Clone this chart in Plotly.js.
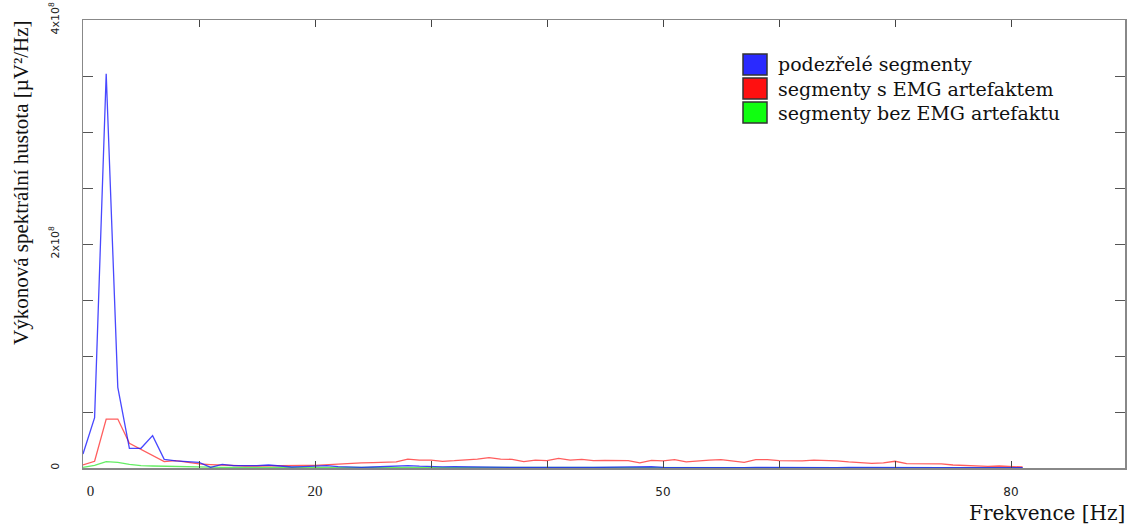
<!DOCTYPE html>
<html>
<head>
<meta charset="utf-8">
<script src="https://cdn.plot.ly/plotly-3.0.1.min.js"></script>
<style>
  html, body { margin: 0; padding: 0; background: #fff; }
  #chart { width: 1128px; height: 524px; }
</style>
</head>
<body>
<div id="chart"></div>
<script>
// Frequency bins [Hz]
const freq = [0,1,2,3,4,5,6,7,8,9,10,11,12,13,14,15,16,17,18,19,20,21,22,23,24,25,26,27,28,29,30,31,32,33,34,35,36,37,38,39,40,41,42,43,44,45,46,47,48,49,50,51,52,53,54,55,56,57,58,59,60,61,62,63,64,65,66,67,68,69,70,71,72,73,74,75,76,77,78,79,80,81];

// Power spectral density, in units of 10^6 µV²/Hz
const suspicious = [12.5,45,352,72,17.6,17.6,28.9,7.7,6.3,5.4,5.1,0.6,3.3,2.1,1.8,2.1,2.7,1.5,0.9,1.2,1.8,2.1,1.2,0.6,0.6,0.9,1.5,2.0,2.2,1.6,1.2,1.0,1.1,0.9,0.8,0.9,0.7,0.6,0.6,0.7,0.6,0.5,0.6,0.5,0.5,0.6,0.7,0.9,1.3,1.1,0.6,0.5,0.4,0.5,0.8,0.6,0.5,0.4,0.5,0.4,0.4,0.5,0.4,0.3,0.4,0.4,0.5,0.4,0.3,0.3,0.4,0.3,0.3,0.4,0.3,0.3,0.3,0.3,0.3,0.3,0.3,0.3];

const withEMG = [2.7,6.0,43.7,43.7,22,16.7,10.7,5.7,6.5,5.1,3.6,3.0,2.4,2.4,1.8,1.8,2.1,2.1,2.4,2.4,2.4,3.0,3.6,4.5,4.5,4.8,4.8,5.4,8.0,7.1,7.1,6.0,6.5,7.1,8.0,9.2,8.0,7.7,5.7,7.1,6.5,8.6,7.1,7.7,6.5,6.8,6.8,6.5,4.5,6.8,6.3,7.4,5.4,6.5,7.1,7.4,6.3,5.1,7.4,7.4,6.5,6.5,6.3,7.1,6.8,6.3,5.4,4.5,4.2,4.5,6.0,3.9,3.9,3.9,3.6,2.7,2.1,2.1,1.5,1.8,1.5,0.9];

const withoutEMG = [0.6,2.4,5.7,5.1,3.3,2.1,1.8,1.5,1.2,1.2,0.9,0.8,0.6,0.6,0.6,0.5,0.5,0.5,0.5,0.5,0.5,0.5,0.5,0.5,0.5,0.5,0.6,0.7,0.7,0.6,0.5,0.5,0.5,0.4,0.4,0.4,0.4,0.4,0.4,0.4,0.4,0.4,0.4,0.4,0.4,0.4,0.4,0.5,0.5,0.6,0.5,0.4,0.4,0.4,0.4,0.4,0.4,0.3,0.3,0.3,0.3,0.3,0.3,0.3,0.3,0.3,0.3,0.3,0.3,0.3,0.3,0.3,0.3,0.3,0.3,0.3,0.3,0.3,0.3,0.2,0.2,0.2];

const seriesNames = ["podezřelé segmenty", "segmenty s EMG artefaktem", "segmenty bez EMG artefaktu"];
const seriesColors = ["rgba(20,20,255,0.78)", "rgba(255,30,30,0.72)", "rgba(40,230,40,0.72)"];
const legendFill = ["#2a2aff", "#ff1010", "#10ff10"];

const serifSpan = t => '<span style="font-family:\'Liberation Serif\';font-size:15px">' + t + '</span>';
const xTickVals = [0,10,20,30,40,50,60,70,80];
const xTickText = [serifSpan('&nbsp;&nbsp;&nbsp;&nbsp;0'), '', serifSpan('20'), '', '', '50', '', '', '80'];
const yTickVals = [0,50,100,150,200,250,300,350,400];
const yTickText = ['0', '', '', '', '2x10<sup>8</sup>', '', '', '', '4x10<sup>8</sup>'];

const traces = [
  {x: freq, y: withoutEMG, name: seriesNames[2], type: 'scatter', mode: 'lines', line: {color: seriesColors[2], width: 1.3}},
  {x: freq, y: withEMG, name: seriesNames[1], type: 'scatter', mode: 'lines', line: {color: seriesColors[1], width: 1.3}},
  {x: freq, y: suspicious, name: seriesNames[0], type: 'scatter', mode: 'lines', line: {color: seriesColors[0], width: 1.3}}
];

// manual legend (squares + labels), positioned in paper coordinates
const L = 83, R = 3, T = 20, B = 56, W = 1128, H = 524;
const pw = W - L - R, ph = H - T - B;
const px2x = p => (p - L) / pw;
const py2y = p => (H - B - p) / ph;
const legendCenters = [64.5, 88.5, 112.5];
const shapes = [];
const annotations = [];
legendCenters.forEach((cy, i) => {
  shapes.push({type: 'rect', xref: 'paper', yref: 'paper',
    x0: px2x(743), x1: px2x(767), y0: py2y(cy + 10.5), y1: py2y(cy - 10.5),
    fillcolor: legendFill[i], line: {color: '#333', width: 1.5}, layer: 'above'});
  annotations.push({xref: 'paper', yref: 'paper', x: px2x(776), y: py2y(cy),
    xanchor: 'left', yanchor: 'middle', showarrow: false, text: seriesNames[i],
    font: {family: 'DejaVu Serif', size: 19, color: '#111'}});
});
annotations.push({xref: 'paper', yref: 'paper', x: px2x(1127), y: py2y(513),
  xanchor: 'right', yanchor: 'middle', showarrow: false, text: 'Frekvence [Hz]',
  font: {family: 'DejaVu Serif', size: 20, color: '#111'}});
annotations.push({xref: 'paper', yref: 'paper', x: px2x(21), y: py2y(183),
  xanchor: 'center', yanchor: 'middle', showarrow: false, textangle: -90,
  text: 'Výkonová spektrální hustota [µV²/Hz]',
  font: {family: 'Liberation Serif', size: 21, color: '#111'}});

const layout = {
  width: W, height: H,
  margin: {l: L, r: R, t: T, b: B, pad: 0},
  paper_bgcolor: '#fff', plot_bgcolor: '#fff',
  showlegend: false,
  xaxis: {
    range: [0, pw / 11.6], tickmode: 'array', tickvals: xTickVals, ticktext: xTickText,
    ticks: 'inside', ticklen: 7, tickwidth: 1, tickcolor: '#444',
    showline: true, linecolor: '#888', linewidth: 1.5, mirror: 'ticks',
    showgrid: false, zeroline: false, ticklabelstandoff: 12,
    tickfont: {family: 'DejaVu Sans', size: 12, color: '#222'}
  },
  yaxis: {
    range: [0, 400], tickmode: 'array', tickvals: yTickVals, ticktext: yTickText,
    ticks: 'inside', ticklen: 10, tickwidth: 1, tickcolor: '#555', tickangle: -90,
    showline: true, linecolor: '#888', linewidth: 1.5, mirror: 'ticks',
    showgrid: false, zeroline: false, ticklabelstandoff: 18,
    tickfont: {family: 'DejaVu Sans', size: 11, color: '#222'}
  },
  shapes: shapes,
  annotations: annotations
};

Plotly.newPlot('chart', traces, layout, {staticPlot: true, displayModeBar: false});
</script>
</body>
</html>
